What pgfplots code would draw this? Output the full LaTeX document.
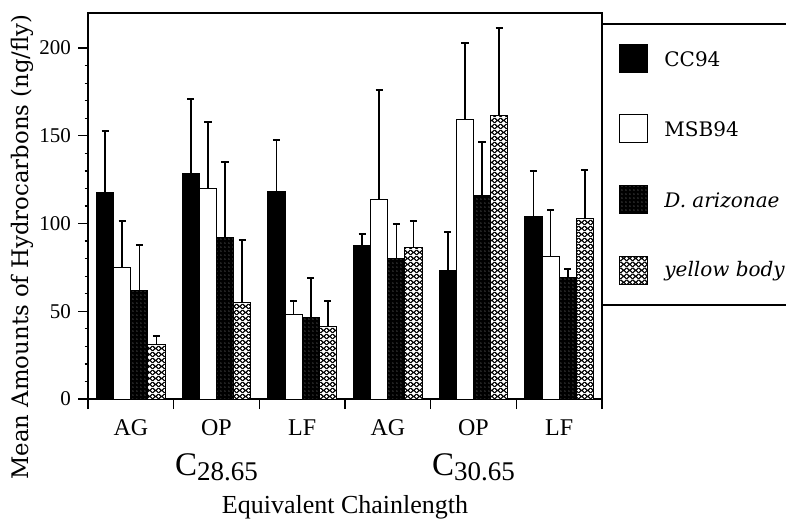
\documentclass[border=0pt]{standalone}
\usepackage{pgfplots}
\pgfplotsset{compat=1.18}
\usepackage{fontspec}
\setmainfont{Liberation Serif}
\newfontfamily\schb{DejaVu Serif}
\usetikzlibrary{patterns}

\pgfdeclarepatterninherentlycolored{darkdots}{\pgfpointorigin}{\pgfpoint{2.2pt}{2.2pt}}{\pgfpoint{2.2pt}{2.2pt}}{%
  \pgfsetfillcolor{black}%
  \pgfpathrectangle{\pgfpointorigin}{\pgfpoint{2.2pt}{2.2pt}}\pgfusepath{fill}%
  \pgfsetfillcolor{black!45}%
  \pgfpathcircle{\pgfpoint{1.1pt}{1.1pt}}{0.32pt}\pgfusepath{fill}%
}
\newcommand\dia[2]{%
  \pgfpathmoveto{\pgfpoint{#1pt}{#2pt-0.9pt}}%
  \pgfpathlineto{\pgfpoint{#1pt+0.9pt}{#2pt}}%
  \pgfpathlineto{\pgfpoint{#1pt}{#2pt+0.9pt}}%
  \pgfpathlineto{\pgfpoint{#1pt-0.9pt}{#2pt}}%
  \pgfpathclose}
\pgfdeclarepatterninherentlycolored{xhatch}{\pgfpointorigin}{\pgfpoint{3pt}{3pt}}{\pgfpoint{3pt}{3pt}}{%
  \pgfsetfillcolor{black}%
  \pgfpathrectangle{\pgfpointorigin}{\pgfpoint{3pt}{3pt}}\pgfusepath{fill}%
  \pgfsetfillcolor{white}%
  \dia{1.5}{1.5}\dia{0}{0}\dia{3}{0}\dia{0}{3}\dia{3}{3}%
  \pgfusepath{fill}%
}

\pgfplotstableread{
x y e
0 117.5 35.2
1 128.4 42.4
2 118.0 29.7
3 87.7 6.5
4 73.3 21.9
5 103.9 26.0
}\cc
\pgfplotstableread{
x y e
0 75.0 26.2
1 119.7 38.3
2 48.4 7.4
3 113.8 62.1
4 159.2 43.6
5 81.5 26.2
}\msb
\pgfplotstableread{
x y e
0 61.7 26.0
1 92.1 42.8
2 46.3 22.5
3 80.2 19.3
4 115.8 30.6
5 69.1 5.0
}\dar
\pgfplotstableread{
x y e
0 30.8 5.1
1 54.9 35.5
2 41.6 14.2
3 86.6 14.8
4 161.4 50.0
5 103.0 27.5
}\yb

\begin{document}
\begin{tikzpicture}[x=1pt,y=1pt]
\useasboundingbox (0,0) rectangle (393,259.5);
\begin{axis}[
  at={(44pt,60pt)}, anchor=south west,
  scale only axis, width=257pt, height=193pt,
  xmin=-0.5, xmax=5.5, ymin=0, ymax=220,
  ybar=0pt, bar width=0.2,
  axis line style={line width=0.7pt},
  xtick={-0.5,0.5,1.5,2.5,3.5,4.5,5.5},
  x tick label as interval,
  xticklabels={AG,{OP\\[6pt]{\fontsize{16.5}{16}\selectfont C}\raisebox{-2.5pt}{\fontsize{13.5}{13}\selectfont 28.65}},LF,AG,{OP\\[6pt]{\fontsize{16.5}{16}\selectfont C}\raisebox{-2.5pt}{\fontsize{13.5}{13}\selectfont 30.65}},LF},
  xticklabel style={font=\fontsize{12}{14}\selectfont, align=center, anchor=north, yshift=-2pt},
  ytick={0,50,100,150,200},
  minor y tick num=4,
  xtick pos=bottom, ytick pos=left,
  tick align=outside,
  major tick length=5pt, minor tick length=1.75pt,
  tick style={line width=0.6pt, black},
  yticklabel style={font=\fontsize{10.5}{11}\selectfont},
  /pgf/number format/assume math mode=true,
  xlabel={Equivalent Chainlength},
  xlabel style={font=\fontsize{13}{14}\selectfont, at={(axis description cs:0.5,0)}, anchor=center, yshift=-54pt},
  ylabel={Mean Amounts of Hydrocarbons (ng/fly)},
  ylabel style={font=\schb\fontsize{11.4}{12}\selectfont, at={(axis description cs:-0.1284,0.394)}, anchor=center, rotate=0},
  error bars/y dir=plus, error bars/y explicit,
  error bars/error bar style={line width=0.8pt, black},
  error bars/error mark options={rotate=90, mark size=1.8pt, line width=1pt, black},
  every axis plot/.append style={draw=black, line width=0.5pt},
]
\addplot[fill=black] table[x=x, y=y, y error=e] {\cc};
\addplot[fill=white] table[x=x, y=y, y error=e] {\msb};
\addplot[pattern=darkdots] table[x=x, y=y, y error=e] {\dar};
\addplot[pattern=xhatch] table[x=x, y=y, y error=e] {\yb};
\end{axis}
% legend
\draw[line width=0.7pt] (301,247.5) -- (393,247.5);
\draw[line width=0.7pt] (301,107) -- (393,107);
\filldraw[line width=0.5pt, fill=black] (309.5,223) rectangle (323.5,237);
\filldraw[line width=0.5pt, fill=white] (309.5,188) rectangle (323.5,202);
\draw[line width=0.5pt, pattern=darkdots] (309.5,152.5) rectangle (323.5,166.5);
\draw[line width=0.5pt, pattern=xhatch] (309.5,117) rectangle (323.5,131);
\begin{scope}[every node/.style={anchor=west, inner sep=0pt, font=\schb\fontsize{10}{12}\selectfont}]
\node at (332,230) {CC94};
\node at (332,195) {MSB94};
\node at (332,159.5) {\itshape D. arizonae};
\node at (332,124) {\itshape yellow body};
\end{scope}
\end{tikzpicture}
\end{document}
